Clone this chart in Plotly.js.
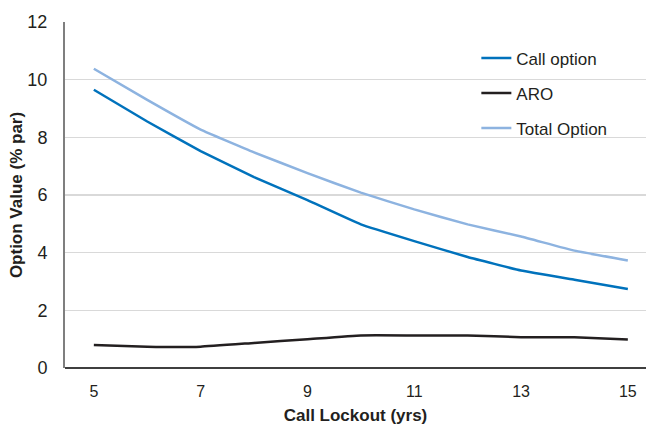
<!DOCTYPE html>
<html>
<head>
<meta charset="utf-8">
<script src="https://cdn.plot.ly/plotly-3.0.1.min.js"></script>
<style>html,body{margin:0;padding:0;background:#fff;}#chart{width:646px;height:425px;}</style>
</head>
<body>
<div id="chart"></div>
<script>
const lockoutYears = [5, 6, 7, 8, 9, 10, 11, 12, 13, 14, 15];
const callOption = [9.65, 8.55, 7.52, 6.62, 5.82, 4.98, 4.4, 3.85, 3.38, 3.06, 2.74];
const aro = [0.8, 0.74, 0.74, 0.87, 1.0, 1.13, 1.13, 1.13, 1.07, 1.07, 0.99];
const totalOption = [10.38, 9.3, 8.27, 7.48, 6.76, 6.08, 5.5, 4.98, 4.56, 4.07, 3.73];
const xTicks = [5, 7, 9, 11, 13, 15];
const yTicks = [0, 2, 4, 6, 8, 10, 12];

const FONT = "'Liberation Sans Narrow', 'Arial Narrow', 'Liberation Sans', Arial, sans-serif";

const mk = (name, y, color, g) => ({
  x: lockoutYears, y: y, name: name, type: 'scatter', mode: 'lines',
  legendgroup: g,
  line: {color: color, width: 2.5, shape: 'spline', smoothing: 0.3}
});

const data = [
  mk('Call option', callOption, '#0072bc', 'a'),
  mk('ARO', aro, '#231f20', 'b'),
  mk('Total Option', totalOption, '#8db3e0', 'c')
];

const layout = {
  width: 646, height: 425,
  margin: {l: 65, r: 0, t: 22, b: 57},
  paper_bgcolor: '#fff', plot_bgcolor: '#fff',
  font: {family: FONT, size: 16, color: '#231f20'},
  showlegend: true,
  legend: {
    x: 0.708, y: 0.947, xanchor: 'left', yanchor: 'top',
    traceorder: 'grouped', tracegroupgap: 10,
    font: {family: FONT, size: 17, color: '#231f20'},
    bgcolor: 'rgba(255,255,255,0)', itemwidth: 30
  },
  xaxis: {
    range: [4.46, 15.34], tickvals: xTicks, ticktext: xTicks.map(String),
    showgrid: false, zeroline: false, showline: false, ticks: '',
    ticklabelstandoff: 12,
    tickfont: {family: FONT, size: 16, color: '#231f20'},
    title: {text: '<b>Call Lockout (yrs)</b>', font: {family: FONT, size: 17, color: '#231f20'}, standoff: 11}
  },
  yaxis: {
    range: [0, 12], tickvals: yTicks, ticktext: yTicks.map(String),
    showgrid: true, gridcolor: '#d9d9d9', gridwidth: 1.5,
    zeroline: true, zerolinecolor: '#3f3f3f', zerolinewidth: 2,
    showline: true, linecolor: '#7f7f7f', linewidth: 2, ticks: '',
    ticklabelstandoff: 12,
    tickfont: {family: "'Liberation Sans', Arial, sans-serif", size: 18, color: '#231f20'},
    title: {text: '<b>Option Value (% par)</b>', font: {family: FONT, size: 17, color: '#231f20'}, standoff: 0}
  }
};

Plotly.newPlot('chart', data, layout, {displayModeBar: false, staticPlot: true});
</script>
</body>
</html>
